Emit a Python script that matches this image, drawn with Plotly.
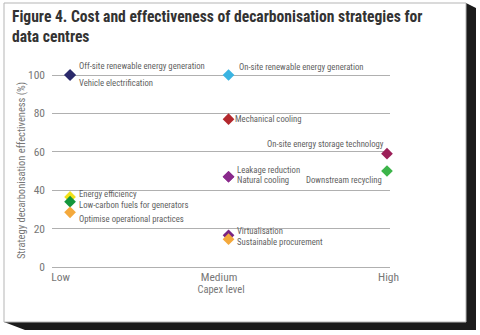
import plotly.graph_objects as go

# ---- data ----
strategies = [
    "Off-site renewable energy generation",
    "Vehicle electrification",
    "On-site renewable energy generation",
    "Mechanical cooling",
    "On-site energy storage technology",
    "Downstream recycling",
    "Leakage reduction",
    "Natural cooling",
    "Energy efficiency",
    "Low-carbon fuels for generators",
    "Optimise operational practices",
    "Virtualisation",
    "Sustainable procurement",
]
capex = ["Low", "Low", "Medium", "Medium", "High", "High", "Medium", "Medium",
         "Low", "Low", "Low", "Medium", "Medium"]
effectiveness = [100, 100, 100, 77, 59, 50, 47, 47, 36.5, 34, 28.5, 16.5, 14.5]
colors = ["#2b2a6b", "#2b2a6b", "#3ab4e2", "#b3282d", "#9b1f58", "#3cb44a",
          "#8a2a8c", "#8a2a8c", "#f2e21b", "#14963c", "#f4a93c", "#7a2483", "#f4a93c"]
capex_levels = ["Low", "Medium", "High"]
y_ticks = [0, 20, 40, 60, 80, 100]

# ---- styling (label placement) ----
label_place = {
    "Off-site renewable energy generation": ("left", 7, 9),
    "Vehicle electrification": ("left", 7, -8),
    "On-site renewable energy generation": ("left", 8, 8),
    "Mechanical cooling": ("left", 4, 0),
    "On-site energy storage technology": ("right", 1, 10),
    "Downstream recycling": ("right", 3, -9),
    "Leakage reduction": ("left", 6, 7),
    "Natural cooling": ("left", 6, -3),
    "Energy efficiency": ("left", 7, 3),
    "Low-carbon fuels for generators": ("left", 7, -3),
    "Optimise operational practices": ("left", 7, -7),
    "Virtualisation": ("left", 6, 4),
    "Sustainable procurement": ("left", 6, -3),
}

FONT = "Noto Sans Condensed, Liberation Sans Narrow, Roboto Condensed, Roboto, sans-serif"
W, H = 480, 335
L, R, T, B = 52, 90, 70, 64
Y0_PX, PX_PER_UNIT = 267, 1.92  # y=0 pixel row and scale used to derive the range

xnum = {c: i for i, c in enumerate(capex_levels)}
xs = [xnum[c] for c in capex]

fig = go.Figure()
fig.add_trace(go.Scatter(
    x=xs, y=effectiveness, mode="markers",
    marker=dict(symbol="diamond", size=9, color=colors),
    text=strategies, hoverinfo="text", showlegend=False, cliponaxis=False,
))

for s, x, y in zip(strategies, xs, effectiveness):
    anchor, xsh, ysh = label_place[s]
    fig.add_annotation(
        x=x, y=y, text=s, showarrow=False, xanchor=anchor, yanchor="middle",
        xshift=xsh if anchor == "left" else -xsh, yshift=ysh,
        font=dict(family=FONT, size=8.7, color="#5f5f5f"),
    )

def px(xp):
    return (xp - L) / (W - L - R)

def py(yp):
    return (H - B - yp) / (H - T - B)

# card shadow and border
fig.add_shape(type="path", xref="paper", yref="paper", layer="below",
              path=(f"M {px(466)} {py(3)} L {px(476)} {py(8)} L {px(476)} {py(330)} "
                    f"L {px(25)} {py(330)} L {px(4)} {py(322)} L {px(466)} {py(322)} Z"),
              fillcolor="#1b1b1b", line=dict(width=0))
fig.add_shape(type="rect", xref="paper", yref="paper", layer="below",
              x0=px(4), x1=px(466), y0=py(322), y1=py(3),
              fillcolor="white", line=dict(color="#b5b5b5", width=1))

# title
fig.add_annotation(
    xref="paper", yref="paper", x=px(10), y=py(6), xanchor="left", yanchor="top",
    align="left", showarrow=False,
    text="<b>Figure 4. Cost and effectiveness of decarbonisation strategies for<br>data centres</b>",
    font=dict(family=FONT, size=15.6, color="#333333"),
)

y_lo = -((H - B) - Y0_PX) / PX_PER_UNIT
y_hi = (Y0_PX - T) / PX_PER_UNIT

fig.update_layout(
    width=W, height=H,
    margin=dict(l=L, r=R, t=T, b=B),
    paper_bgcolor="white", plot_bgcolor="rgba(0,0,0,0)",
    xaxis=dict(
        range=[-0.114, 2.019], tickvals=[-0.06, 0.94, 2.01], ticktext=capex_levels,
        showgrid=False, zeroline=False, showline=False, ticks="",
        ticklabelstandoff=-3,
        tickfont=dict(family=FONT, size=11.5, color="#777777"),
        title=dict(text="Capex level", standoff=2,
                   font=dict(family=FONT, size=10.5, color="#777777")),
    ),
    yaxis=dict(
        range=[y_lo, y_hi], tickvals=y_ticks,
        showgrid=True, gridcolor="#b0b0b0", gridwidth=1, zeroline=False,
        showline=False, ticks="", ticklabelstandoff=6,
        tickfont=dict(family=FONT, size=11.5, color="#777777"),
        title=dict(text="Strategy decarbonisation effectiveness (%)", standoff=0,
                   font=dict(family=FONT, size=10.5, color="#777777")),
    ),
)

fig.write_html("out.html")
